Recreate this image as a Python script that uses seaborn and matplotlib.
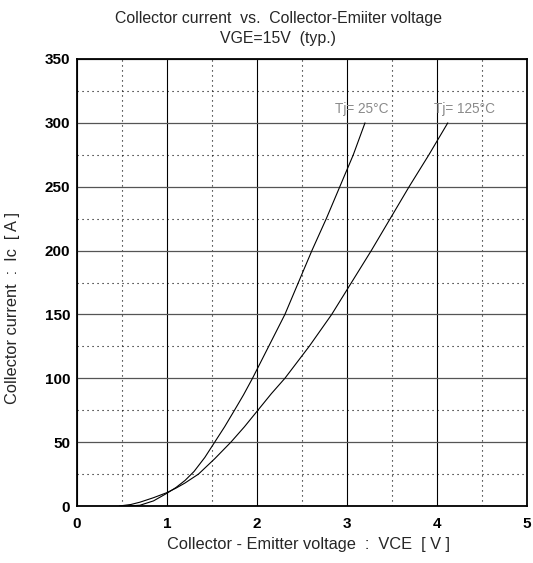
import matplotlib
matplotlib.use("Agg")
import matplotlib.pyplot as plt
import seaborn as sns
import pandas as pd
import numpy as np

vce_25 = [0.57, 0.7, 0.85, 1.0, 1.1, 1.2, 1.3, 1.42, 1.53, 1.64, 1.75, 1.85, 1.95,
          2.13, 2.31, 2.46, 2.61, 2.77, 2.92, 3.07, 3.20]
ic_25 = [0, 0.6, 4, 10, 14.5, 20, 27, 38, 50, 62, 75, 87, 100,
         125, 150, 175, 200, 225, 250, 275, 300]
vce_125 = [0.47, 0.6, 0.7, 0.85, 1.0, 1.1, 1.2, 1.35, 1.53, 1.71, 1.86, 2.01, 2.16,
           2.31, 2.58, 2.83, 3.05, 3.27, 3.48, 3.69, 3.91, 4.12]
ic_125 = [0, 1.2, 3, 6.5, 10.5, 14, 18, 25, 37, 50, 62, 75, 88,
          100, 125, 150, 175, 200, 225, 250, 275, 300]
series_labels = ["Tj= 25°C", "Tj= 125°C"]
x_ticks = [0, 1, 2, 3, 4, 5]
y_ticks = [0, 50, 100, 150, 200, 250, 300, 350]

sns.set_style("white")
plt.rcParams['font.family'] = ['Liberation Sans', 'DejaVu Sans']

fig = plt.figure(figsize=(5.33, 5.63), dpi=100)
ax = fig.add_axes([77 / 533, 57 / 563, 450 / 533, 447 / 563])

df = pd.concat([
    pd.DataFrame({"VCE": vce_25, "IC": ic_25, "T": series_labels[0]}),
    pd.DataFrame({"VCE": vce_125, "IC": ic_125, "T": series_labels[1]}),
])
sns.lineplot(data=df, x="VCE", y="IC", units="T", estimator=None, sort=False,
             color="black", lw=0.8, ax=ax, legend=False)

ax.set_xlim(0, 5)
ax.set_ylim(0, 350)
ax.set_xticks(x_ticks)
ax.set_yticks(y_ticks)
ax.set_xticks(np.arange(0.5, 5, 1), minor=True)
ax.set_yticks(np.arange(25, 350, 50), minor=True)
ax.grid(which="major", axis="x", color="black", lw=0.8, ls="-")
ax.grid(which="major", axis="y", color="#555555", lw=0.9, ls="-")
ax.grid(which="minor", color="black", lw=0.8, ls=(0, (1, 3.5)))
ax.tick_params(which="both", direction="in", length=3, width=0.8, colors="black",
               labelsize=11)
for lab in ax.get_xticklabels() + ax.get_yticklabels():
    lab.set_fontweight("bold")
ax.tick_params(axis="x", pad=8)
ax.tick_params(axis="y", pad=5)
ax.set_xlabel("")
ax.set_ylabel("")
for s in ax.spines.values():
    s.set_color("black")
    s.set_linewidth(1.3)

fig.text(308.5 / 533, 1 - 545 / 563, "Collector - Emitter voltage  :  VCE  [ V ]",
         fontsize=11.8, ha="center", va="center")
fig.text(13 / 533, 1 - 308 / 563, "Collector current  :  Ic  [ A ]",
         fontsize=11.8, ha="center", va="center", rotation=90)
fig.text(278.5 / 533, 1 - 18 / 563, "Collector current  vs.  Collector-Emiiter voltage",
         fontsize=11.4, ha="center", va="center")
fig.text(278.5 / 533, 1 - 39 / 563, "VGE=15V  (typ.)",
         fontsize=11.4, ha="center", va="center")

ax.text(3.16, 311, series_labels[0], color="#8a8a8a", fontsize=9.8, ha="center", va="center")
ax.text(4.30, 311, series_labels[1], color="#8a8a8a", fontsize=9.8, ha="center", va="center")

fig.savefig("out.png", dpi=100)
